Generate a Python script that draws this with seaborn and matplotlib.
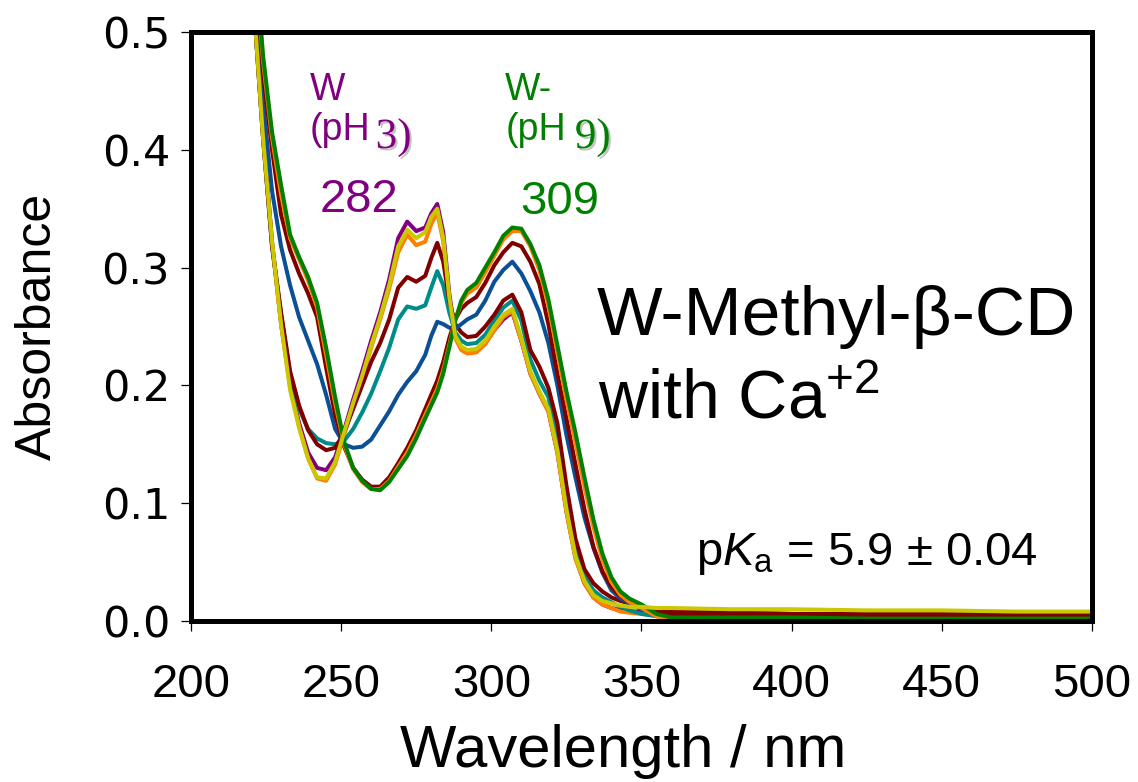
import numpy as np
import pandas as pd
import matplotlib
matplotlib.use("Agg")
import matplotlib.pyplot as plt
import matplotlib.patheffects as pe
import seaborn as sns

# Wavelength grid (nm) shared by every spectrum
wavelength = [219, 221, 224, 227, 230, 233, 236, 239, 242, 245, 248, 251, 254, 257,
              260, 263, 266, 269, 272, 275, 278, 280, 282, 284, 286, 288, 290, 292,
              295, 298, 301, 304, 307, 310, 313, 316, 319, 322, 325, 328, 331, 334,
              337, 340, 343, 346, 350, 355, 360, 380, 400, 425, 450, 475, 500]

# Absorbance spectra of the titration series (acidic -> basic)
abs_purple = [0.60, 0.52, 0.415, 0.322, 0.252, 0.200, 0.168, 0.143, 0.130, 0.128, 0.139, 0.162, 0.188, 0.212,
              0.238, 0.262, 0.290, 0.325, 0.339, 0.331, 0.334, 0.346, 0.354, 0.330, 0.278, 0.243, 0.232, 0.229,
              0.229, 0.236, 0.247, 0.256, 0.262, 0.238, 0.210, 0.193, 0.178, 0.143, 0.093, 0.054, 0.032, 0.020,
              0.014, 0.011, 0.009, 0.008, 0.008, 0.007, 0.007, 0.007, 0.006, 0.006, 0.006, 0.005, 0.005]
abs_orange1 = [0.60, 0.52, 0.410, 0.320, 0.253, 0.200, 0.165, 0.138, 0.121, 0.119, 0.133, 0.158, 0.183, 0.206,
               0.232, 0.256, 0.282, 0.313, 0.328, 0.319, 0.322, 0.337, 0.347, 0.322, 0.272, 0.240, 0.230, 0.227,
               0.228, 0.235, 0.247, 0.258, 0.263, 0.238, 0.210, 0.193, 0.178, 0.143, 0.093, 0.053, 0.032, 0.020,
               0.014, 0.011, 0.008, 0.007, 0.006, 0.005, 0.004, 0.004, 0.004, 0.004, 0.003, 0.003, 0.003]
abs_teal = [0.60, 0.52, 0.410, 0.318, 0.260, 0.210, 0.180, 0.163, 0.155, 0.151, 0.150, 0.153, 0.163, 0.177,
            0.193, 0.212, 0.232, 0.256, 0.267, 0.265, 0.268, 0.283, 0.297, 0.285, 0.262, 0.245, 0.238, 0.235,
            0.236, 0.243, 0.255, 0.266, 0.272, 0.255, 0.222, 0.204, 0.190, 0.155, 0.100, 0.060, 0.038, 0.026,
            0.020, 0.016, 0.012, 0.009, 0.006, 0.004, 0.004, 0.004, 0.004, 0.003, 0.003, 0.003, 0.003]
abs_maroon1 = [0.60, 0.52, 0.410, 0.318, 0.262, 0.212, 0.183, 0.162, 0.150, 0.145, 0.147, 0.160, 0.180, 0.200,
               0.220, 0.236, 0.256, 0.283, 0.292, 0.288, 0.293, 0.308, 0.321, 0.305, 0.272, 0.252, 0.245, 0.241,
               0.242, 0.250, 0.260, 0.272, 0.277, 0.262, 0.230, 0.216, 0.198, 0.168, 0.115, 0.070, 0.044, 0.032,
               0.025, 0.020, 0.017, 0.015, 0.012, 0.009, 0.008, 0.007, 0.006, 0.006, 0.006, 0.005, 0.005]
abs_blue = [0.62, 0.54, 0.440, 0.365, 0.318, 0.285, 0.258, 0.238, 0.218, 0.192, 0.163, 0.150, 0.147, 0.148,
            0.154, 0.166, 0.178, 0.192, 0.203, 0.212, 0.226, 0.242, 0.254, 0.252, 0.249, 0.248, 0.252, 0.256,
            0.260, 0.272, 0.288, 0.298, 0.305, 0.295, 0.280, 0.262, 0.236, 0.200, 0.158, 0.122, 0.088, 0.062,
            0.041, 0.026, 0.019, 0.015, 0.010, 0.006, 0.004, 0.004, 0.004, 0.003, 0.003, 0.003, 0.003]
abs_maroon2 = [0.64, 0.56, 0.465, 0.400, 0.345, 0.315, 0.295, 0.278, 0.258, 0.215, 0.175, 0.148, 0.130, 0.120,
               0.114, 0.114, 0.122, 0.134, 0.147, 0.162, 0.180, 0.192, 0.204, 0.220, 0.240, 0.256, 0.265, 0.270,
               0.275, 0.287, 0.302, 0.313, 0.321, 0.318, 0.305, 0.286, 0.252, 0.210, 0.172, 0.133, 0.095, 0.063,
               0.042, 0.029, 0.021, 0.016, 0.012, 0.008, 0.006, 0.006, 0.005, 0.005, 0.005, 0.005, 0.005]
abs_orange2 = [0.65, 0.57, 0.475, 0.410, 0.362, 0.325, 0.307, 0.289, 0.266, 0.226, 0.185, 0.150, 0.129, 0.118,
               0.112, 0.112, 0.119, 0.131, 0.143, 0.158, 0.175, 0.186, 0.197, 0.213, 0.234, 0.256, 0.270, 0.278,
               0.283, 0.296, 0.310, 0.324, 0.331, 0.331, 0.318, 0.298, 0.268, 0.228, 0.188, 0.152, 0.114, 0.080,
               0.052, 0.033, 0.022, 0.016, 0.011, 0.004, 0.002, 0.002, 0.002, 0.001, 0.001, 0.001, 0.001]
abs_green = [0.66, 0.58, 0.480, 0.415, 0.370, 0.328, 0.309, 0.292, 0.270, 0.232, 0.190, 0.152, 0.130, 0.119,
             0.112, 0.111, 0.118, 0.129, 0.140, 0.155, 0.172, 0.183, 0.194, 0.210, 0.232, 0.255, 0.272, 0.281,
             0.287, 0.300, 0.313, 0.327, 0.334, 0.333, 0.320, 0.302, 0.273, 0.234, 0.195, 0.160, 0.122, 0.086,
             0.057, 0.037, 0.025, 0.019, 0.014, 0.006, 0.003, 0.003, 0.003, 0.002, 0.002, 0.002, 0.002]
abs_yellow = [0.60, 0.52, 0.410, 0.322, 0.252, 0.196, 0.164, 0.138, 0.122, 0.121, 0.135, 0.160, 0.185, 0.208,
              0.234, 0.258, 0.285, 0.318, 0.332, 0.325, 0.330, 0.343, 0.350, 0.325, 0.275, 0.242, 0.233, 0.230,
              0.231, 0.238, 0.250, 0.260, 0.265, 0.240, 0.212, 0.195, 0.180, 0.145, 0.095, 0.055, 0.034, 0.022,
              0.017, 0.015, 0.013, 0.012, 0.012, 0.011, 0.011, 0.010, 0.010, 0.009, 0.009, 0.008, 0.008]

series_names = ["purple", "orange1", "teal", "maroon1", "blue", "maroon2", "orange2", "green", "yellow"]
series_values = [abs_purple, abs_orange1, abs_teal, abs_maroon1, abs_blue,
                 abs_maroon2, abs_orange2, abs_green, abs_yellow]
series_colors = ["#800080", "#FF8000", "#008B8B", "#800000", "#0B4F96",
                 "#800000", "#FF8000", "#008000", "#CCC800"]

x_ticks = [200, 250, 300, 350, 400, 450, 500]
y_ticks = [0.0, 0.1, 0.2, 0.3, 0.4, 0.5]

df = pd.concat(
    [pd.DataFrame({"wavelength": wavelength, "absorbance": vals, "series": name})
     for name, vals in zip(series_names, series_values)],
    ignore_index=True,
)

sns.set_style("ticks")
plt.rcParams["font.family"] = ["Liberation Sans", "DejaVu Sans"]
plt.rcParams["mathtext.fontset"] = "custom"
plt.rcParams["mathtext.rm"] = "Liberation Sans"
plt.rcParams["mathtext.it"] = "Liberation Sans:italic"
plt.rcParams["text.color"] = "black"
plt.rcParams["axes.labelcolor"] = "black"
plt.rcParams["xtick.color"] = "black"
plt.rcParams["ytick.color"] = "black"

fig = plt.figure(figsize=(11.38, 7.82), dpi=100)
ax = fig.add_axes([0.1678, 0.2059, 0.7918, 0.7532])

sns.lineplot(data=df, x="wavelength", y="absorbance", hue="series",
             hue_order=series_names, palette=dict(zip(series_names, series_colors)),
             linewidth=2.9, legend=False, ax=ax, sort=True)
for line in ax.get_lines():
    line.set_solid_joinstyle("round")
    line.set_solid_capstyle("round")

ax.set_xlim(200, 500)
ax.set_ylim(0.0, 0.5)
ax.set_xticks(x_ticks)
ax.set_yticks(y_ticks)
ax.set_xticklabels([str(t) for t in x_ticks])
ax.set_yticklabels([f"{t:.1f}" for t in y_ticks])

for s in ax.spines.values():
    s.set_visible(True)
    s.set_linewidth(3.6)
    s.set_color("black")

ax.tick_params(axis="x", direction="out", length=7, width=0.9, pad=23, labelsize=34,
               colors="black")
ax.tick_params(axis="y", direction="out", length=7, width=0.9, pad=8, labelsize=31,
               colors="black")
for lab in ax.get_yticklabels():
    lab.set_fontfamily("DejaVu Sans")

ax.set_xlabel("Wavelength / nm", fontsize=43, color="black")
ax.set_ylabel("Absorbance", fontsize=36, color="black")
ax.xaxis.set_label_coords(0.48, -0.222)
ax.xaxis.label.set_va("center")
ax.yaxis.set_label_coords(-0.17, 0.50)
ax.yaxis.label.set_va("center")

shadow = [pe.withSimplePatchShadow(offset=(1.5, -1.5), shadow_rgbFace="#888888", alpha=0.5)]

# Species labels
purple = "#800080"
green = "#008000"
ax.text(239.6, 0.442, "W", color=purple, fontsize=27)
ax.text(239.6, 0.408, "(pH", color=purple, fontsize=27)
ax.text(261.5, 0.4015, "3)", color=purple, fontsize=31, family="Liberation Serif",
        path_effects=shadow)
ax.text(243.0, 0.347, "282", color=purple, fontsize=34)

ax.text(304.6, 0.442, "W-", color=green, fontsize=27)
ax.text(304.6, 0.408, "(pH", color=green, fontsize=27)
ax.text(327.8, 0.4015, "9)", color=green, fontsize=31, family="Liberation Serif",
        path_effects=shadow)
ax.text(309.6, 0.3455, "309", color=green, fontsize=34)

ax.text(335.2, 0.2428, "W-Methyl-β-CD", color="black", fontsize=50)
ax.text(335.5, 0.1715, r"with Ca$^{\mathrm{+2}}$", color="black", fontsize=49)
ax.text(368.0, 0.0475, r"p$\mathit{K}_{\mathrm{a}}$ = 5.9 ± 0.04", color="black", fontsize=34)

fig.savefig("out.png", dpi=100)
